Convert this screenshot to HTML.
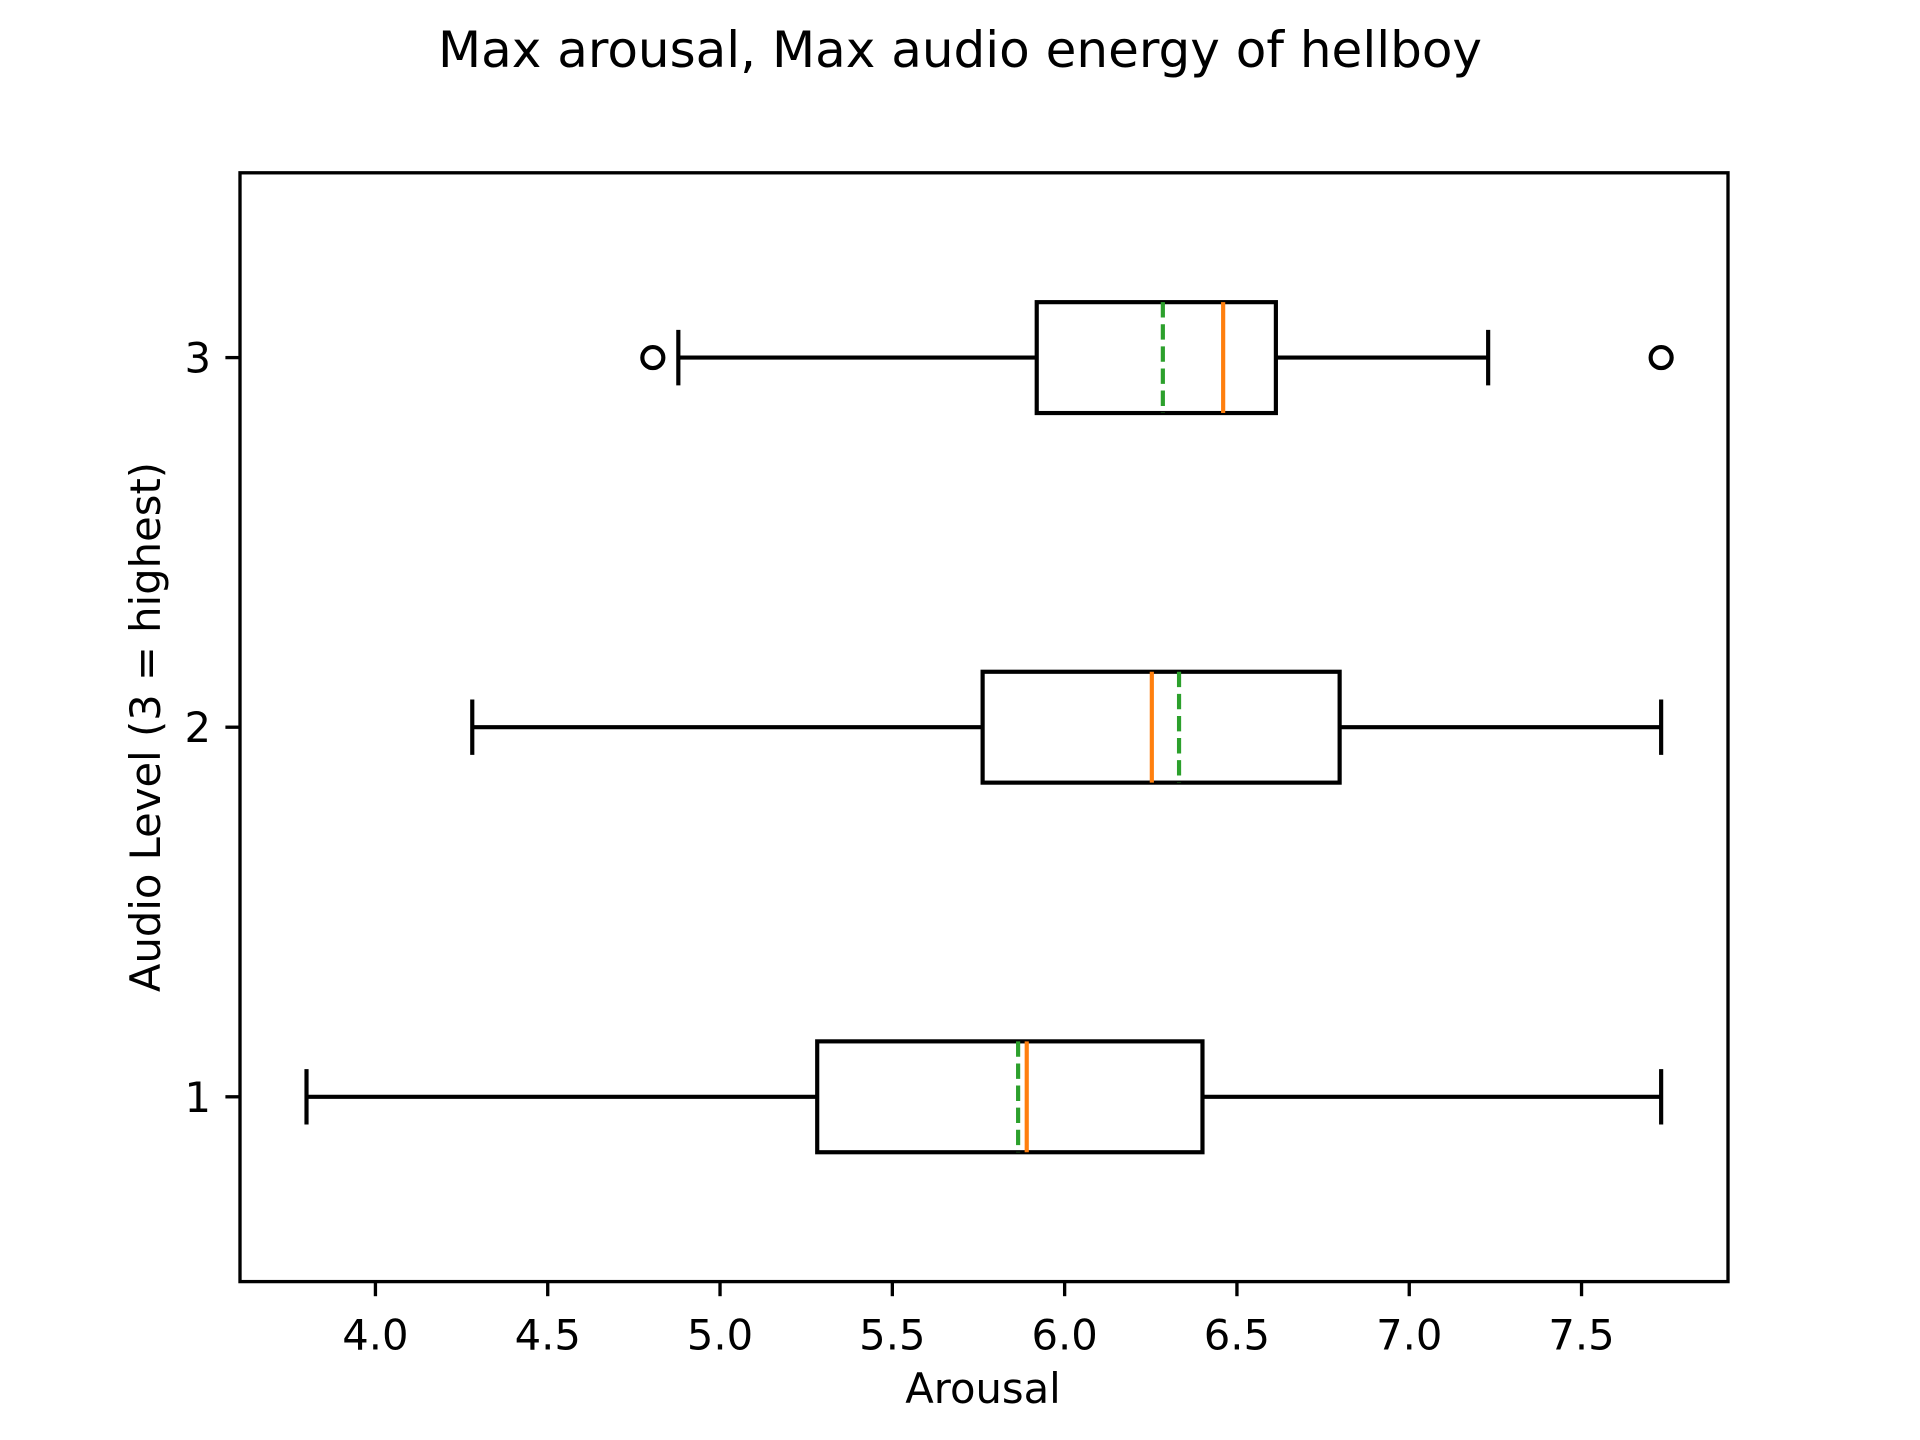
<!DOCTYPE html>
<html><head><meta charset="utf-8"><style>
html,body{margin:0;padding:0;background:#fff;}
svg{display:block;font-family:"DejaVu Sans","Liberation Sans",sans-serif;}
</style></head><body>
<svg id="chart" width="1920" height="1440" viewBox="0 0 1920 1440" xmlns="http://www.w3.org/2000/svg">
<rect width="1920" height="1440" fill="#fff"/>
<text x="960" y="67" font-size="50" text-anchor="middle">Max arousal, Max audio energy of hellboy</text>
<text x="983" y="1403" font-size="41.7" text-anchor="middle">Arousal</text>
<text x="0" y="0" font-size="41.7" text-anchor="middle" transform="translate(160,727) rotate(-90)">Audio Level (3 = highest)</text>
<g id="marks"></g>
<rect x="240" y="172.8" width="1488" height="1108.8" fill="none" stroke="#000" stroke-width="3.33"/>
</svg>
<script>
const levels = [1, 2, 3];
const q1s = [5.282, 5.762, 5.919];
const q3s = [6.400, 6.798, 6.613];
const medians = [5.890, 6.253, 6.460];
const means = [5.865, 6.332, 6.285];
const whiskLo = [3.80, 4.281, 4.879];
const whiskHi = [7.731, 7.731, 7.229];
const outliers = [[], [], [4.805, 7.731]];
const xTicks = [4.0, 4.5, 5.0, 5.5, 6.0, 6.5, 7.0, 7.5];
const xTickLabels = ["4.0", "4.5", "5.0", "5.5", "6.0", "6.5", "7.0", "7.5"];
const yTickLabels = ["1", "2", "3"];

const L = 240, R = 1728, T = 172.8, B = 1281.6;
const xMin = 3.607, xMax = 7.925, yMin = 0.5, yMax = 3.5;
const X = v => L + (v - xMin) / (xMax - xMin) * (R - L);
const Y = v => B - (v - yMin) / (yMax - yMin) * (B - T);
const NS = "http://www.w3.org/2000/svg";
const g = document.getElementById('marks');
function mk(tag, attrs, parent) {
  const e = document.createElementNS(NS, tag);
  for (const k in attrs) e.setAttribute(k, attrs[k]);
  (parent || g).appendChild(e);
  return e;
}
xTicks.forEach((t, i) => {
  const l = mk('line', {x1: X(t), x2: X(t), y1: B, y2: B + 14.6, stroke: '#000', 'stroke-width': 3.33});
  
  
  const tx = mk('text', {x: X(t), y: B + 68, 'font-size': 41.7, 'text-anchor': 'middle'});
  tx.textContent = xTickLabels[i];
  
  
});
levels.forEach((lv, i) => {
  const l = mk('line', {x1: L - 14.6, x2: L, y1: Y(lv), y2: Y(lv), stroke: '#000', 'stroke-width': 3.33});
  
  
  const tx = mk('text', {x: L - 29, y: Y(lv) + 15, 'font-size': 41.7, 'text-anchor': 'end'});
  tx.textContent = yTickLabels[i];
  
  
});
const bw = 0.3, cw = 0.15, lw = 4.17;
levels.forEach((lv, i) => {
  const grp = mk('g', {});
  
  
  const yc = Y(lv), yt = Y(lv + bw / 2), yb = Y(lv - bw / 2);
  const ct = Y(lv + cw / 2), cb = Y(lv - cw / 2);
  mk('line', {x1: X(whiskLo[i]), x2: X(q1s[i]), y1: yc, y2: yc, stroke: '#000', 'stroke-width': lw}, grp);
  mk('line', {x1: X(q3s[i]), x2: X(whiskHi[i]), y1: yc, y2: yc, stroke: '#000', 'stroke-width': lw}, grp);
  mk('line', {x1: X(whiskLo[i]), x2: X(whiskLo[i]), y1: ct, y2: cb, stroke: '#000', 'stroke-width': lw}, grp);
  mk('line', {x1: X(whiskHi[i]), x2: X(whiskHi[i]), y1: ct, y2: cb, stroke: '#000', 'stroke-width': lw}, grp);
  mk('rect', {x: X(q1s[i]), y: yt, width: X(q3s[i]) - X(q1s[i]), height: yb - yt, fill: 'none', stroke: '#000', 'stroke-width': lw}, grp);
  const mean = mk('line', {x1: X(means[i]), x2: X(means[i]), y1: yt, y2: yb, stroke: '#2ca02c', 'stroke-width': lw, 'stroke-dasharray': '15.4,6.7'}, grp);
  
  
  const med = mk('line', {x1: X(medians[i]), x2: X(medians[i]), y1: yt, y2: yb, stroke: '#ff7f0e', 'stroke-width': lw}, grp);
  
  
  outliers[i].forEach(o => {
    const c = mk('circle', {cx: X(o), cy: yc, r: 10.5, fill: 'none', stroke: '#000', 'stroke-width': lw}, grp);
    
    
  });
});
</script>
</body></html>
